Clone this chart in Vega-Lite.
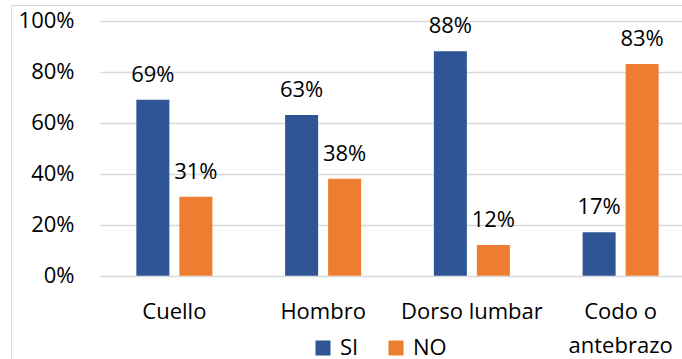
{
  "$schema": "https://vega.github.io/schema/vega-lite/v6.json",
  "autosize": {"type": "none"},
  "padding": {"left": 11, "top": 5, "right": 0, "bottom": 0},
  "width": 671,
  "height": 354,
  "config": {
    "font": "Open Sans",
    "view": {"stroke": "#d9d9d9", "strokeWidth": 1},
    "axis": {
      "labelFont": "Open Sans",
      "labelFontSize": 22,
      "labelColor": "#000000",
      "ticks": false,
      "domain": false,
      "title": null
    },
    "legend": {
      "labelFont": "Open Sans",
      "labelFontSize": 22,
      "labelColor": "#000000"
    }
  },
  "data": {
    "values": [
      {"parte": "Cuello", "respuesta": "SI", "valor": 0.69},
      {"parte": "Cuello", "respuesta": "NO", "valor": 0.31},
      {"parte": "Hombro", "respuesta": "SI", "valor": 0.63},
      {"parte": "Hombro", "respuesta": "NO", "valor": 0.38},
      {"parte": "Dorso lumbar", "respuesta": "SI", "valor": 0.88},
      {"parte": "Dorso lumbar", "respuesta": "NO", "valor": 0.12},
      {"parte": "Codo o antebrazo", "respuesta": "SI", "valor": 0.17},
      {"parte": "Codo o antebrazo", "respuesta": "NO", "valor": 0.83}
    ]
  },
  "encoding": {
    "x": {
      "field": "parte",
      "type": "nominal",
      "sort": ["Cuello", "Hombro", "Dorso lumbar", "Codo o antebrazo"],
      "scale": {"range": [89, 684], "paddingInner": 0, "paddingOuter": 0},
      "axis": {
        "orient": "bottom",
        "offset": -83,
        "grid": false,
        "labelAngle": 0,
        "labelPadding": 42,
        "labelBaseline": "alphabetic",
        "labelLineHeight": 34,
        "labelExpr": "datum.value == 'Codo o antebrazo' ? ['Codo o', 'antebrazo'] : datum.value"
      }
    },
    "xOffset": {
      "field": "respuesta",
      "type": "nominal",
      "sort": ["SI", "NO"],
      "scale": {"paddingInner": 0.2326, "paddingOuter": 0.845}
    },
    "y": {
      "field": "valor",
      "type": "quantitative",
      "scale": {"domain": [0, 1], "range": [270.7, 15.7], "nice": false},
      "axis": {
        "orient": "left",
        "offset": -63,
        "labelPadding": 0,
        "values": [0, 0.2, 0.4, 0.6, 0.8, 1],
        "format": ".0%",
        "grid": true,
        "gridColor": "#d9d9d9",
        "gridWidth": 1.5
      }
    }
  },
  "layer": [
    {
      "mark": {"type": "bar"},
      "encoding": {
        "color": {
          "field": "respuesta",
          "type": "nominal",
          "sort": ["SI", "NO"],
          "scale": {"domain": ["SI", "NO"], "range": ["#2F5597", "#ED7D31"]},
          "legend": {
            "title": null,
            "orient": "none",
            "direction": "horizontal",
            "legendX": 301,
            "legendY": 332,
            "padding": 0,
            "symbolType": "square",
            "symbolSize": 225,
            "symbolStrokeWidth": 0,
            "labelOffset": 6,
            "columnPadding": 26
          }
        }
      }
    },
    {
      "mark": {"type": "text", "baseline": "alphabetic", "dy": -18, "fontSize": 22, "font": "Open Sans", "color": "#000000"},
      "encoding": {
        "text": {"field": "valor", "type": "quantitative", "format": ".0%"}
      }
    }
  ]
}
